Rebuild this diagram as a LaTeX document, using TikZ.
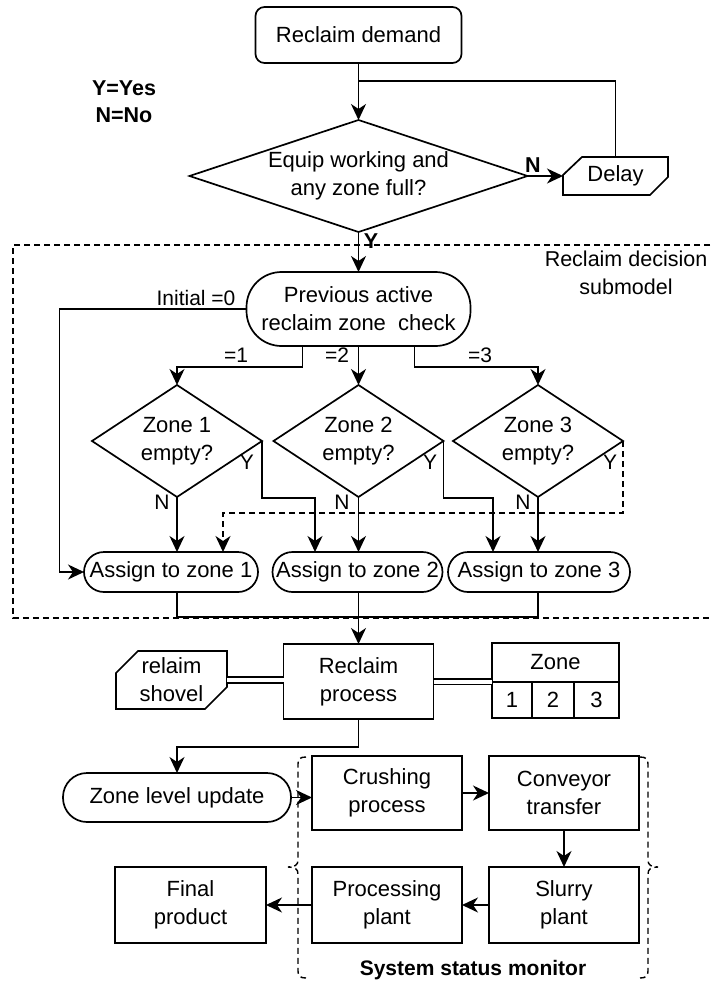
\documentclass[tikz,border=0pt]{standalone}
\usepackage{fontspec}
\setmainfont{Liberation Sans}
\usetikzlibrary{arrows.meta,shapes.geometric}
\begin{document}
\begin{tikzpicture}[x=1pt,y=-1pt,
  every node/.style={font=\fontsize{22}{28}\selectfont, inner sep=0pt, outer sep=0pt, align=center},
  ln/.style={line width=1.7pt, line join=miter},
  arr/.style={ln, -{Stealth[length=16pt,width=15pt,inset=5pt]}},
  dashln/.style={line width=1.4pt, dash pattern=on 6pt off 4pt},
  procbox/.style={draw, line width=1.7pt, minimum width=150pt, minimum height=75pt},
  pill/.style={draw, line width=1.7pt, rounded corners=#1},
  decision/.style={draw, diamond, line width=1.7pt},
  bold/.style={font=\fontsize{21.5}{27}\bfseries\selectfont},
  flowlbl/.style={font=\fontsize{21}{25}\selectfont}
]
\useasboundingbox (0,0) rectangle (710,985);

% ---------- main decision ----------
\node[pill=9pt, minimum width=206pt, minimum height=56pt] (demand) at (358.5,35) {Reclaim demand};
\node[bold] (legend) at (124,102) {Y=Yes\\N=No};
\node[decision, minimum width=338pt, minimum height=112pt,
      label=center:{Equip working and\\any zone full?}] (dec) at (358.5,176) {};
\node[minimum width=105pt, minimum height=38pt] (delay) at (615.5,176) {Delay};
\draw[ln] ([xshift=19pt]delay.north west) -- (delay.north east)
  -- ([yshift=18pt]delay.south east) -- ([xshift=-18pt]delay.south east)
  -- (delay.south west) -- ([yshift=-18pt]delay.north west) -- cycle;

\coordinate (jn) at (358.5,81);
\draw[arr] (demand.south) -- (dec.north);
\draw[ln] (delay.north) |- (jn);
\draw[arr] (dec.east) -- (delay.west);
\node[bold] (nlbl) at (533,165) {N};

% ---------- reclaim decision submodel ----------
\draw[dashln] (710,245) -- (13,245) -- (13,618) -- (710,618);
\node[flowlbl, font=\fontsize{21.5}{28}\selectfont] (subttl) at (626,273) {Reclaim decision\\submodel};

\node[pill=35pt, minimum width=224pt, minimum height=74pt] (prev) at (358.5,309)
  {Previous active\\reclaim zone\ \ check};
\draw[arr] (dec.south) -- (prev.north);
\node[bold] (ylbl) at (371,241) {Y};

\node[decision, minimum width=170pt, minimum height=112pt, label=center:{Zone 1\\empty?}] (z1) at (177,441) {};
\node[decision, minimum width=170pt, minimum height=112pt, label=center:{Zone 2\\empty?}] (z2) at (358.5,441) {};
\node[decision, minimum width=170pt, minimum height=112pt, label=center:{Zone 3\\empty?}] (z3) at (538,441) {};

\node[pill=20pt, minimum width=174pt, minimum height=40pt] (a1) at (171,572) {Assign to zone 1};
\node[pill=20pt, minimum width=170pt, minimum height=40pt] (a2) at (357.5,572) {Assign to zone 2};
\node[pill=20pt, minimum width=182pt, minimum height=40pt] (a3) at (539,572) {Assign to zone 3};

% previous-zone branches
\draw[arr] (prev.west) -- ++(-187,0) |- (a1.west);
\node[flowlbl] (l0) at (196,298) {Initial =0};
\draw[arr] ([xshift=-56pt]prev.south) |- ([yshift=18pt]z1.north) -- (z1.north);
\node[flowlbl] (l1) at (236,355) {=1};
\draw[arr] (prev.south) -- (z2.north);
\node[flowlbl] (l2) at (337,355) {=2};
\draw[arr] ([xshift=56pt]prev.south) |- ([yshift=18pt]z3.north) -- (z3.north);
\node[flowlbl] (l3) at (480,355) {=3};

% zone checks
\draw[arr] (z1.south) -- (z1.south |- a1.north);
\draw[arr] (z2.south) -- (z2.south |- a2.north);
\draw[arr] (z3.south) -- (z3.south |- a3.north);
\draw[arr] (z1.east) -- ++(0,57) -| ([xshift=-42.5pt]a2.north);
\draw[arr] (z2.east) -- ++(0,57) -| ([xshift=-46pt]a3.north);
\draw[arr, dash pattern=on 6pt off 4pt] (z3.east) -- ++(0,72) -| ([xshift=52pt]a1.north);
\foreach \z/\x in {z1/247, z2/430, z3/610} \node[flowlbl] (y\z) at (\x,462) {Y};
\foreach \z/\x in {z1/162, z2/342, z3/523} \node[flowlbl] (n\z) at (\x,502) {N};

% merge
\draw[ln] (z1.south |- a1.south) -- ++(0,25) -| (z3.south |- a3.south);

% ---------- reclaim process ----------
\node[procbox] (proc) at (358.5,681.5) {Reclaim\\process};
\draw[arr] (z2.south |- a2.south) -- (proc.north);

\node[minimum width=111pt, minimum height=58pt] (shovel) at (171.5,680) {relaim\\shovel};
\draw[ln] ([xshift=22pt]shovel.north west) -- (shovel.north east)
  -- ([yshift=22pt]shovel.south east) -- ([xshift=-22pt]shovel.south east)
  -- (shovel.south west) -- ([yshift=-22pt]shovel.north west) -- cycle;

\node[draw, line width=1.7pt, minimum width=127pt, minimum height=75pt] (tab) at (555.5,680.5) {};
\draw[ln] ([yshift=-39pt]tab.north west) -- ([yshift=-39pt]tab.north east);
\draw[ln] ([xshift=40pt,yshift=-39pt]tab.north west) -- ([xshift=40pt]tab.south west);
\draw[ln] ([xshift=82pt,yshift=-39pt]tab.north west) -- ([xshift=82pt]tab.south west);
\node (tz) at (555.5,662) {Zone};
\node (t1) at (512,700) {1};
\node (t2) at (553,700) {2};
\node (t3) at (596.5,700) {3};

\draw[ln, double, double distance=4pt] (shovel.east) -- (shovel.east -| proc.west);
\draw[ln, double, double distance=4pt] (proc.east) -- (proc.east -| tab.west);

% ---------- downstream ----------
\node[pill=24pt, minimum width=228pt, minimum height=49pt] (zlu) at (177,797.5) {Zone level update};
\draw[arr] (proc.south) -- ++(0,28) -| (zlu.north);

\node[procbox, minimum height=74pt] (crush) at (387,793) {Crushing\\process};
\node[procbox, minimum height=74pt] (conv) at (564,793) {Conveyor\\transfer};
\node[procbox, minimum height=76pt] (slurry) at (564,905) {Slurry\\plant};
\node[procbox, minimum height=76pt] (procp) at (387,905) {Processing\\plant};
\node[procbox, minimum width=151pt, minimum height=76pt] (final) at (190.5,905) {Final\\product};

\draw[arr] (zlu.east) -- (zlu.east -| crush.west);
\draw[arr] (crush.east) -- (conv.west);
\draw[arr] (conv.south) -- (slurry.north);
\draw[arr] (slurry.west) -- (procp.east);
\draw[arr] (procp.west) -- (final.east);

% system status monitor braces
\draw[dashln] (306,757) .. controls (300,757) and (298,759) .. (298,764) -- (298,860)
  .. controls (298,865) and (295,867) .. (288,867) .. controls (295,867) and (298,869) .. (298,874)
  -- (298,971) .. controls (298,976) and (300,978) .. (306,978);
\draw[dashln] (640,757) .. controls (646,757) and (648,759) .. (648,764) -- (648,860)
  .. controls (648,865) and (651,867) .. (658,867) .. controls (651,867) and (648,869) .. (648,874)
  -- (648,971) .. controls (648,976) and (646,978) .. (640,978);
\node[bold, font=\fontsize{21}{25}\bfseries\selectfont] (ssm) at (473,970) {System status monitor};
\end{tikzpicture}
\end{document}
